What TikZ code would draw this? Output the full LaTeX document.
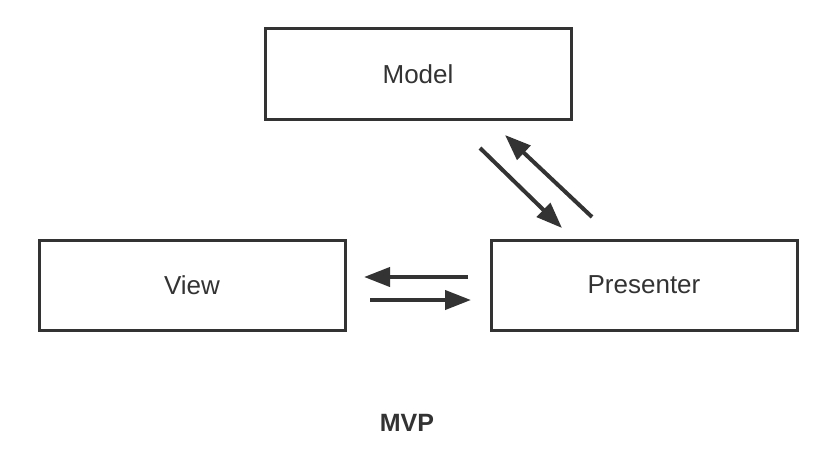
\documentclass[tikz,border=0pt]{standalone}
\usepackage{fontspec}
\setmainfont{Liberation Sans}
\usetikzlibrary{arrows.meta}
\definecolor{ink}{HTML}{333333}
\begin{document}
\begin{tikzpicture}[x=1pt,y=-1pt,
  box/.style={draw=ink,line width=3pt,minimum width=306pt,minimum height=90pt,inner sep=0pt,text=ink,font=\fontsize{26}{30}\selectfont},
  conn/.style={draw=ink,line width=4pt,-{Triangle[length=26pt,width=19pt]}},
  lbl/.style={text=ink,font=\fontsize{25}{28}\selectfont\bfseries}]
\useasboundingbox (0,0) rectangle (834,452);
\node[box] (model) at (418,74) {\raisebox{-2pt}{Model}};
\node[box] (view) at (192,285) {\raisebox{-2pt}{View}};
\node[box] (presenter) at (644,285) {\raisebox{-2pt}{Presenter}};
\node[lbl] (title) at (407,423) {MVP};
\coordinate (mp1) at (480,148);
\coordinate (mp2) at (562,228);
\coordinate (pm1) at (592,217);
\coordinate (pm2) at (505,135);
\coordinate (pv1) at (468,277);
\coordinate (pv2) at (364,277);
\coordinate (vp1) at (370,300);
\coordinate (vp2) at (471,300);
\draw[conn] (mp1) -- (mp2);
\draw[conn] (pm1) -- (pm2);
\draw[conn] (pv1) -- (pv2);
\draw[conn] (vp1) -- (vp2);
\end{tikzpicture}
\end{document}
